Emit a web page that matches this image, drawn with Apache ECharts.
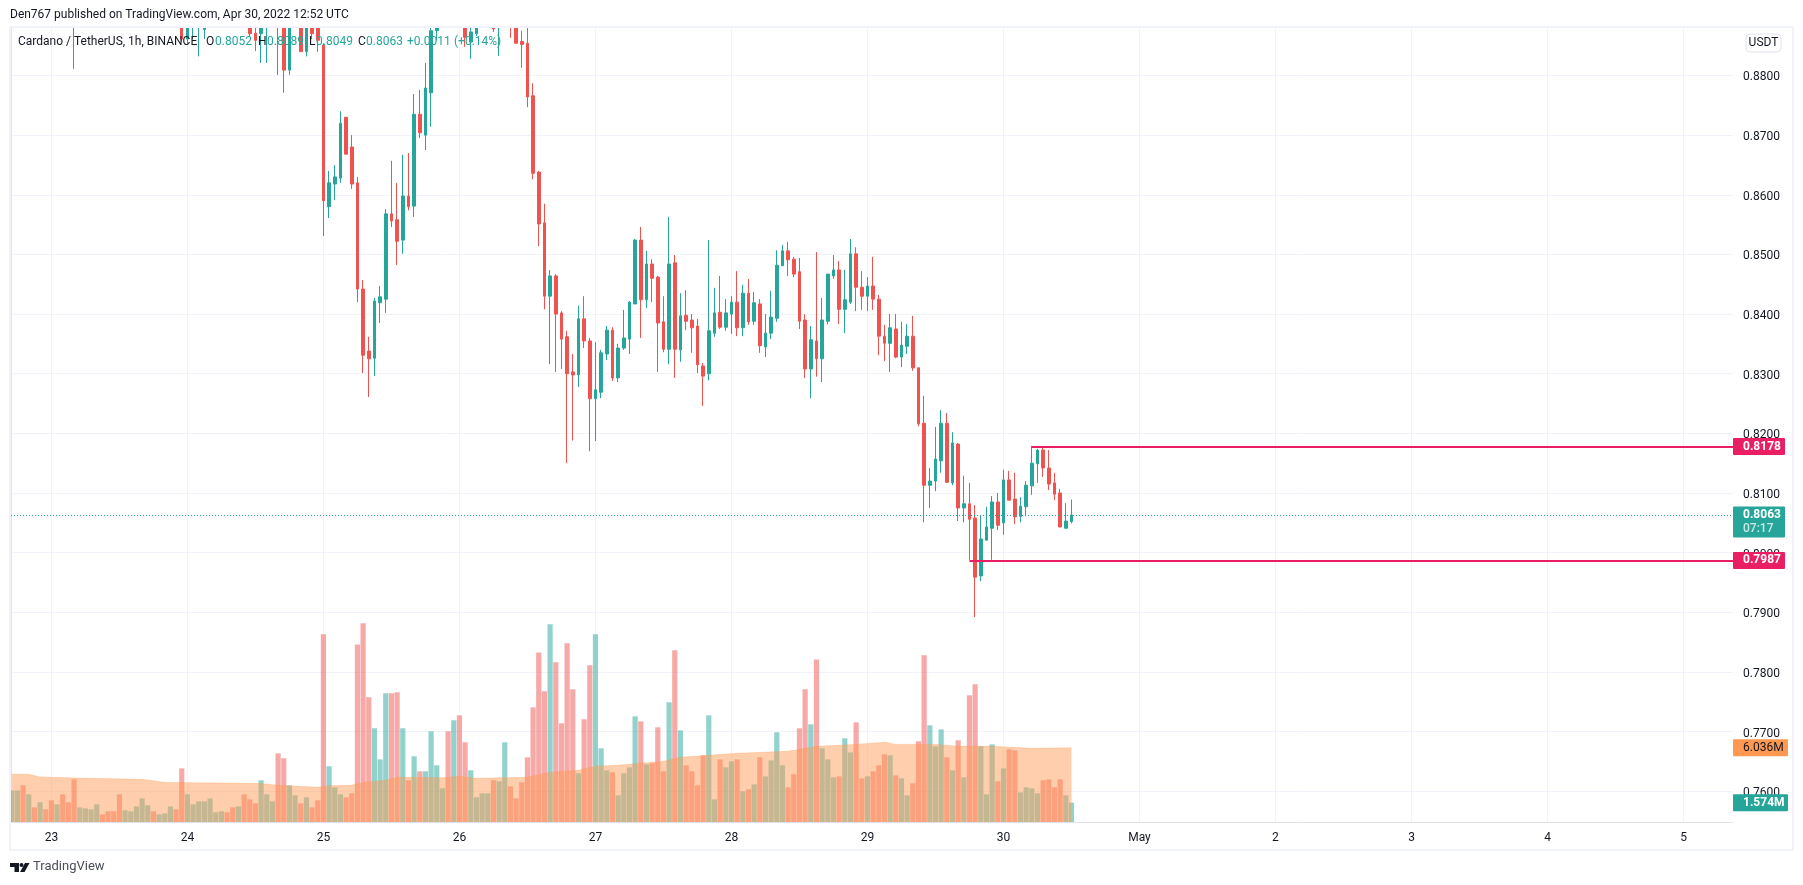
<!DOCTYPE html>
<html>
<head>
<meta charset="utf-8">
<title>Cardano / TetherUS</title>
<script src="https://cdn.jsdelivr.net/npm/echarts@6/dist/echarts.min.js"></script>
<style>
    html, body { margin: 0; padding: 0; background: #fff; }
    #chart { width: 1803px; height: 885px; }
</style>
</head>
<body>
<div id="chart"></div>
<script>
// hour counted from 22 Apr 17:00 UTC, only candles that reach into the visible range
const hours = [
    11, 30, 31, 32, 33, 34, 42, 43, 44, 45,
    47, 48, 49, 51, 52, 53, 54, 55, 56, 57,
    58, 59, 60, 61, 62, 63, 64, 65, 66, 67,
    68, 69, 70, 71, 72, 73, 74, 75, 80, 81,
    82, 85, 86, 88, 89, 90, 91, 92, 93, 94,
    95, 96, 97, 98, 99, 100, 101, 102, 103, 104,
    105, 106, 107, 108, 109, 110, 111, 112, 113, 114,
    115, 116, 117, 118, 119, 120, 121, 122, 123, 124,
    125, 126, 127, 128, 129, 130, 131, 132, 133, 134,
    135, 136, 137, 138, 139, 140, 141, 142, 143, 144,
    145, 146, 147, 148, 149, 150, 151, 152, 153, 154,
    155, 156, 157, 158, 159, 160, 161, 162, 163, 164,
    165, 166, 167, 168, 169, 170, 171, 172, 173, 174,
    175, 176, 177, 178, 179, 180, 181, 182, 183, 184,
    185, 186, 187
];
const opens = [
    .8925, .8905, .8861, .8890, .8890, .8877, .8895, .8871, .8870, .8890,
    .8925, .8925, .8809, .8920, .8840, .8900, .8890, .8851, .8580, .8618,
    .8628, .8730, .8680, .8620, .8442, .8338, .8326, .8419, .8425, .8568,
    .8558, .8524, .8598, .8581, .8735, .8700, .8771, .8875, .8900, .8856,
    .8870, .8885, .8880, .8900, .8900, .8857, .8854, .8766, .8638, .8553,
    .8430, .8464, .8402, .8362, .8303, .8298, .8392, .8355, .8258, .8269,
    .8333, .8373, .8293, .8343, .8358, .8417, .8524, .8424, .8484, .8462,
    .8387, .8341, .8486, .8340, .8398, .8390, .8380, .8313, .8300, .8368,
    .8403, .8378, .8400, .8420, .8377, .8435, .8388, .8417, .8345, .8368,
    .8393, .8481, .8506, .8492, .8471, .8390, .8308, .8355, .8325, .8388,
    .8464, .8474, .8408, .8420, .8501, .8445, .8430, .8447, .8425, .8363,
    .8351, .8375, .8328, .8346, .8363, .8310, .8217, .8113, .8120, .8154,
    .8217, .8117, .8182, .8075, .8082, .8058, .7961, .8021, .8041, .8085,
    .8050, .8122, .8090, .8061, .8077, .8112, .8149, .8172, .8142, .8117,
    .8100, .8041, .8052
];
const closes = [
    .8905, .8861, .8895, .8900, .8895, .8885, .8870, .8859, .8895, .8900,
    .8900, .8809, .8920, .8840, .8900, .8870, .8859, .8590, .8620, .8630,
    .8720, .8668, .8618, .8442, .8331, .8325, .8422, .8429, .8568, .8556,
    .8522, .8598, .8580, .8735, .8704, .8779, .8875, .8890, .8864, .8873,
    .8885, .8878, .8890, .8890, .8854, .8852, .8764, .8636, .8551, .8430,
    .8464, .8400, .8358, .8300, .8298, .8392, .8355, .8258, .8273, .8335,
    .8373, .8293, .8343, .8360, .8420, .8524, .8424, .8484, .8460, .8385,
    .8341, .8484, .8341, .8397, .8388, .8377, .8315, .8296, .8372, .8402,
    .8378, .8402, .8420, .8377, .8435, .8387, .8419, .8347, .8368, .8395,
    .8482, .8506, .8491, .8467, .8388, .8308, .8357, .8325, .8390, .8467,
    .8474, .8408, .8424, .8501, .8445, .8430, .8447, .8425, .8363, .8351,
    .8377, .8328, .8348, .8363, .8310, .8216, .8113, .8120, .8157, .8217,
    .8118, .8184, .8075, .8082, .8056, .7959, .8023, .8043, .8085, .8046,
    .8122, .8088, .8060, .8078, .8113, .8150, .8172, .8142, .8115, .8098,
    .8043, .8053, .8063
];
const lows = [
    .8811, .8857, .8851, .8861, .8832, .8861, .8865, .8841, .8821, .8821,
    .8801, .8771, .8801, .8840, .8832, .8861, .8840, .8531, .8561, .8591,
    .8620, .8668, .8610, .8420, .8301, .8261, .8296, .8385, .8402, .8546,
    .8482, .8501, .8574, .8563, .8695, .8675, .8714, .8859, .8848, .8828,
    .8866, .8873, .8833, .8863, .8854, .8813, .8747, .8626, .8514, .8408,
    .8316, .8303, .8308, .8150, .8188, .8278, .8343, .8170, .8187, .8259,
    .8323, .8288, .8286, .8340, .8333, .8417, .8360, .8410, .8420, .8303,
    .8336, .8316, .8293, .8320, .8373, .8335, .8301, .8246, .8289, .8362,
    .8375, .8372, .8367, .8363, .8363, .8382, .8382, .8335, .8328, .8358,
    .8387, .8481, .8464, .8462, .8375, .8293, .8259, .8295, .8286, .8383,
    .8459, .8383, .8368, .8417, .8405, .8407, .8405, .8407, .8331, .8321,
    .8303, .8326, .8311, .8333, .8305, .8212, .8051, .8075, .8103, .8134,
    .8117, .8113, .8053, .8051, .7988, .7892, .7952, .8021, .7988, .8038,
    .8030, .8088, .8048, .8051, .8061, .8097, .8117, .8127, .8105, .8088,
    .8043, .8041, .8049
];
const highs = [
    .8950, .8915, .8905, .8910, .8905, .8895, .8900, .8895, .8905, .8910,
    .8935, .8935, .8930, .8930, .8910, .8910, .8900, .8854, .8640, .8650,
    .8740, .8730, .8700, .8630, .8457, .8362, .8427, .8447, .8576, .8657,
    .8620, .8667, .8670, .8769, .8776, .8821, .8885, .8895, .8910, .8890,
    .8890, .8890, .8895, .8905, .8905, .8875, .8890, .8787, .8640, .8585,
    .8474, .8467, .8405, .8372, .8333, .8414, .8430, .8360, .8353, .8340,
    .8380, .8378, .8350, .8407, .8422, .8526, .8546, .8506, .8492, .8464,
    .8430, .8563, .8499, .8435, .8440, .8400, .8392, .8318, .8524, .8444,
    .8464, .8425, .8430, .8472, .8449, .8459, .8437, .8425, .8400, .8439,
    .8507, .8516, .8521, .8496, .8494, .8400, .8380, .8504, .8427, .8467,
    .8499, .8489, .8474, .8526, .8512, .8472, .8462, .8496, .8432, .8382,
    .8400, .8400, .8387, .8383, .8397, .8310, .8263, .8142, .8211, .8239,
    .8234, .8202, .8184, .8129, .8117, .8080, .8063, .8077, .8095, .8100,
    .8139, .8137, .8134, .8093, .8120, .8179, .8174, .8179, .8172, .8134,
    .8107, .8083, .8089
];
// volume in millions, one per hour from 0 to 187
const volumes = [
    2.57, 2.57, 2.98, 2.25, 1.19, 1.60, 1.03, 1.76, 1.44, 2.25,
    1.60, 3.47, 1.19, 1.11, 1.03, 1.44, 0.62, 0.87, 0.87, 2.25,
    0.95, 0.87, 1.27, 1.92, 1.36, 0.87, 0.62, 0.70, 1.27, 1.03,
    4.36, 2.25, 1.44, 1.68, 1.68, 1.92, 0.79, 0.87, 0.79, 1.19,
    1.27, 2.25, 1.84, 1.52, 3.39, 2.25, 1.68, 5.58, 5.18, 2.98,
    2.17, 1.52, 2.01, 1.19, 1.76, 15.26, 4.53, 2.82, 2.25, 2.01,
    2.33, 14.44, 16.15, 10.14, 7.62, 5.09, 10.46, 10.46, 10.54, 7.62,
    3.39, 5.34, 4.12, 4.12, 7.37, 4.61, 2.74, 7.37, 8.27, 8.67,
    6.48, 4.20, 2.01, 2.33, 2.33, 3.39, 3.31, 6.48, 2.90, 1.92,
    3.22, 5.26, 9.32, 13.79, 10.62, 16.07, 12.98, 8.02, 14.53, 10.79,
    3.96, 8.35, 12.74, 15.26, 5.99, 4.20, 4.04, 2.17, 3.96, 4.44,
    8.59, 8.18, 4.69, 4.77, 7.70, 4.12, 9.73, 13.96, 7.45, 4.61,
    4.12, 2.98, 5.42, 8.67, 1.84, 5.09, 4.44, 4.93, 5.09, 2.49,
    2.66, 3.06, 5.26, 3.71, 5.01, 7.29, 4.61, 2.82, 3.88, 7.62,
    10.79, 7.94, 13.22, 5.99, 5.09, 3.63, 3.71, 6.80, 5.66, 8.10,
    3.55, 3.71, 4.12, 4.61, 5.50, 5.42, 3.79, 3.55, 2.17, 3.14,
    6.56, 13.55, 7.86, 6.15, 7.53, 5.26, 4.20, 6.64, 3.63, 10.30,
    11.19, 6.15, 2.25, 6.31, 3.31, 4.36, 5.91, 5.83, 2.41, 2.82,
    2.74, 2.33, 3.39, 3.47, 2.82, 3.47, 2.17, 1.574
];
const hiddenUpHours = [0, 1, 3, 5, 8, 12, 13, 14, 15, 20, 21, 22, 23, 24, 26, 27, 28, 35, 36, 37, 40, 46, 50, 76, 78, 83, 84, 87];
// volume moving average, read at its visible bends
const maHours = [0, 3, 5, 13, 23, 27, 36, 44, 47, 54, 56, 60, 62, 66, 68, 76, 79, 82, 91, 95, 100, 103, 107, 115, 118, 123, 128, 137, 142, 149, 154, 156, 163, 167, 173, 180, 187];
const maValues = [3.88, 3.88, 3.66, 3.55, 3.47, 3.22, 3.17, 3.12, 2.98, 2.82, 2.95, 2.98, 3.22, 3.39, 3.63, 3.60, 3.71, 3.55, 3.63, 4.04, 4.20, 4.53, 4.61, 4.93, 5.26, 5.42, 5.58, 5.75, 6.15, 6.31, 6.48, 6.31, 6.31, 6.15, 6.15, 5.99, 6.036];

const priceTicks = [0.76, 0.77, 0.78, 0.79, 0.80, 0.81, 0.82, 0.83, 0.84, 0.85, 0.86, 0.87, 0.88];
const dayHours = [7, 31, 55, 79, 103, 127, 151, 175, 199, 223, 247, 271, 295];
const dayLabels = ['23', '24', '25', '26', '27', '28', '29', '30', 'May', '2', '3', '4', '5'];

const levelPrices = [0.8178, 0.7987];
const levelStartHours = [180, 169];
const lastPrice = 0.8063;
const countdown = '07:17';
const lastVolume = 1.574;
const lastMa = 6.036;

const UP = '#26a69a';
const DOWN = '#ef5350';
const LEVEL = '#e91e63';
const FONT = 'Roboto, "Noto Sans", sans-serif';
const X_MIN = -0.13;
const X_MAX = 303.73;

const candleData = hours.map((h, i) => [h, opens[i], closes[i], lows[i], highs[i]]);

function isUpHour(h) {
    const i = hours.indexOf(h);
    if (i >= 0) return closes[i] > opens[i];
    return hiddenUpHours.indexOf(h) >= 0;
}

const volumeData = volumes.map((v, h) => ({
    value: [h, v],
    itemStyle: { color: isUpHour(h) ? 'rgba(38,166,154,0.5)' : 'rgba(239,83,80,0.5)' }
}));

// coloured value tags sitting on the price scale
function tagRender(width) {
    return function (params, api) {
        const sys = params.coordSys;
        const y = api.coord([0, api.value(1)])[1];
        const row = tagRows[params.seriesName][params.dataIndex];
        const h = row.sub ? 31 : 17;
        const children = [
            {
                type: 'rect',
                shape: { x: sys.x + sys.width, y: y - 8.5, width: width, height: h, r: 1 },
                style: { fill: row.fill }
            },
            {
                type: 'text',
                style: {
                    x: sys.x + sys.width + 10, y: y, text: row.text, fill: row.color,
                    font: row.weight + ' 12px ' + FONT, textVerticalAlign: 'middle'
                }
            }
        ];
        if (row.sub) {
            children.push({
                type: 'text',
                style: {
                    x: sys.x + sys.width + 10, y: y + 14, text: row.sub, fill: 'rgba(255,255,255,0.75)',
                    font: '500 12px ' + FONT, textVerticalAlign: 'middle'
                }
            });
        }
        return { type: 'group', children: children };
    };
}

const tagRows = {
    priceTags: [
        { text: levelPrices[0].toFixed(4), fill: LEVEL, color: '#fff', weight: 'bold' },
        { text: levelPrices[1].toFixed(4), fill: LEVEL, color: '#fff', weight: 'bold' },
        { text: lastPrice.toFixed(4), sub: countdown, fill: UP, color: '#fff', weight: 'bold' }
    ],
    volumeTags: [
        { text: lastMa.toFixed(3) + 'M', fill: '#ff9850', color: '#131722', weight: 'normal' },
        { text: lastVolume.toFixed(3) + 'M', fill: UP, color: '#fff', weight: 'bold' }
    ]
};

function legendText(x, text, color) {
    return {
        type: 'text', z: 20, silent: true,
        style: { x: x, y: 42, text: text, fill: color, font: '12px ' + FONT, textVerticalAlign: 'middle' }
    };
}

const chart = echarts.init(document.getElementById('chart'));
chart.setOption({
    animation: false,
    backgroundColor: '#fff',
    textStyle: { fontFamily: FONT },
    grid: { left: 11, top: 28, width: 1722, height: 794 },
    xAxis: {
        type: 'value',
        min: X_MIN,
        max: X_MAX,
        axisLine: { onZero: false, lineStyle: { color: '#e0e3eb' } },
        axisTick: { show: false, customValues: dayHours },
        splitLine: { show: true, lineStyle: { color: '#f0f3fa' } },
        axisLabel: {
            customValues: dayHours,
            margin: 10,
            color: '#131722',
            fontSize: 12,
            formatter: v => dayLabels[dayHours.indexOf(v)]
        }
    },
    yAxis: [
        {
            type: 'value',
            position: 'right',
            min: 0.75485,
            max: 0.88796,
            axisLine: { show: true, lineStyle: { color: '#e0e3eb' } },
            axisTick: { show: false, customValues: priceTicks },
            splitLine: { show: true, lineStyle: { color: '#f0f3fa' } },
            axisLabel: {
                customValues: priceTicks,
                margin: 10,
                color: '#131722',
                fontSize: 12,
                // small line box hung from the tick, keeps the digits centred on the grid line
                verticalAlign: 'top',
                lineHeight: 4,
                formatter: v => v.toFixed(4)
            }
        },
        { type: 'value', min: 0, max: 64.55, show: false }
    ],
    series: [
        {
            name: 'Volume',
            type: 'bar',
            yAxisIndex: 1,
            barWidth: 5.2,
            z: 1,
            data: volumeData
        },
        {
            name: 'Volume MA',
            type: 'line',
            yAxisIndex: 1,
            showSymbol: false,
            z: 2,
            lineStyle: { color: '#ff9850', width: 1, opacity: 0.3 },
            areaStyle: { color: '#ff9850', opacity: 0.47 },
            data: maHours.map((h, i) => [h, maValues[i]])
        },
        {
            name: 'ADAUSDT',
            type: 'candlestick',
            barWidth: 3,
            z: 3,
            encode: { x: 0, y: [1, 2, 3, 4] },
            itemStyle: { color: UP, color0: DOWN, borderColor: UP, borderColor0: DOWN, borderWidth: 1 },
            data: candleData,
            markLine: {
                silent: true,
                symbol: 'none',
                animation: false,
                label: { show: false },
                data: [
                    [
                        { xAxis: levelStartHours[0], yAxis: levelPrices[0], lineStyle: { color: LEVEL, width: 2, type: 'solid' } },
                        { xAxis: X_MAX, yAxis: levelPrices[0] }
                    ],
                    [
                        { xAxis: levelStartHours[1], yAxis: levelPrices[1], lineStyle: { color: LEVEL, width: 2, type: 'solid' } },
                        { xAxis: X_MAX, yAxis: levelPrices[1] }
                    ],
                    [
                        { xAxis: X_MIN, yAxis: lastPrice, lineStyle: { color: UP, width: 1, type: [1, 2] } },
                        { xAxis: X_MAX, yAxis: lastPrice }
                    ]
                ]
            }
        },
        {
            name: 'priceTags',
            type: 'custom',
            z: 10,
            clip: false,
            silent: true,
            renderItem: tagRender(52),
            encode: { x: 0, y: 1 },
            data: [[0, levelPrices[0]], [0, levelPrices[1]], [0, lastPrice]]
        },
        {
            name: 'volumeTags',
            type: 'custom',
            yAxisIndex: 1,
            z: 10,
            clip: false,
            silent: true,
            renderItem: tagRender(55),
            encode: { x: 0, y: 1 },
            data: [[0, lastMa], [0, lastVolume]]
        }
    ],
    graphic: [
        // candles above the scale would spill over the header, mask that strip
        {
            type: 'rect', z: 8, silent: true,
            shape: { x: 0, y: 0, width: 1803, height: 27 },
            style: { fill: '#fff' }
        },
        // outer frame
        {
            type: 'rect', z: 9, silent: true,
            shape: { x: 10, y: 27, width: 1783, height: 823 },
            style: { fill: 'none', stroke: '#f0f3fa', lineWidth: 2 }
        },
        // header and legend
        {
            type: 'text', z: 20, silent: true,
            style: { x: 10, y: 15, text: 'Den767 published on TradingView.com, Apr 30, 2022 12:52 UTC', fill: '#131722', font: '12px ' + FONT, textVerticalAlign: 'middle' }
        },
        legendText(18, 'Cardano / TetherUS, 1h, BINANCE', '#131722'),
        legendText(206, 'O', '#131722'),
        legendText(215, '0.8052', UP),
        legendText(258, 'H', '#131722'),
        legendText(267, '0.8089', UP),
        legendText(309, 'L', '#131722'),
        legendText(316, '0.8049', UP),
        legendText(358, 'C', '#131722'),
        legendText(366, '0.8063', UP),
        legendText(407, '+0.0011', UP),
        legendText(454, '(+0.14%)', UP),
        // currency button
        {
            type: 'rect', z: 20, silent: true,
            shape: { x: 1746, y: 34, width: 35, height: 18, r: 4 },
            style: { fill: '#fff', stroke: '#e0e3eb', lineWidth: 1 }
        },
        {
            type: 'text', z: 21, silent: true,
            style: { x: 1763.5, y: 43, text: 'USDT', fill: '#131722', font: '12px ' + FONT, textAlign: 'center', textVerticalAlign: 'middle' }
        },
        // TradingView mark
        {
            type: 'polygon', silent: true,
            shape: { points: [[10, 863], [19, 863], [19, 872], [14.5, 872], [14.5, 867], [10, 867]] },
            style: { fill: '#131722' }
        },
        {
            type: 'circle', silent: true,
            shape: { cx: 21.5, cy: 865, r: 2 },
            style: { fill: '#131722' }
        },
        {
            type: 'polygon', silent: true,
            shape: { points: [[25, 863], [29.5, 863], [24.5, 872], [20, 872]] },
            style: { fill: '#131722' }
        },
        {
            type: 'text', silent: true,
            style: { x: 33, y: 867, text: 'TradingView', fill: '#4a4e5a', font: '13px ' + FONT, textVerticalAlign: 'middle' }
        }
    ]
});
</script>
</body>
</html>
